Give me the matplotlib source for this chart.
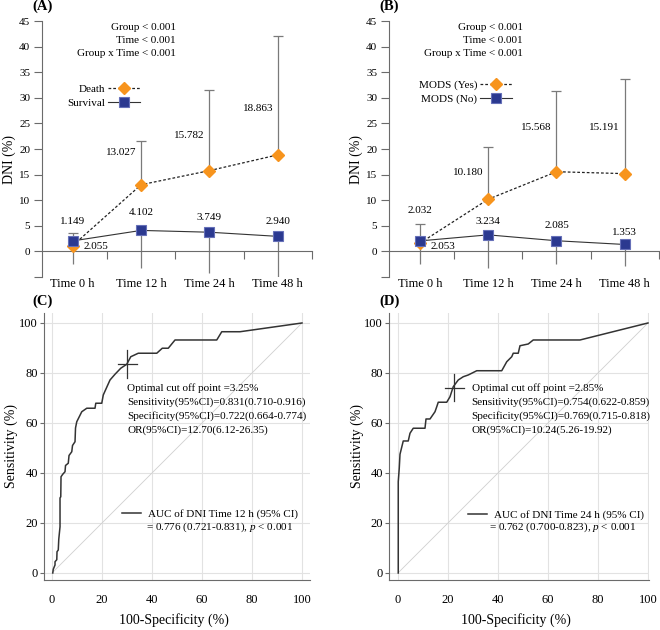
import matplotlib
matplotlib.use("Agg")
import matplotlib.pyplot as plt

plt.rcParams['font.family'] = ['Liberation Serif', 'DejaVu Serif']
plt.rcParams['mathtext.fontset'] = 'custom'
plt.rcParams['mathtext.rm'] = 'Liberation Serif'
plt.rcParams['mathtext.it'] = 'Liberation Serif:italic'

# ---- data: DNI over time ----
times = ["Time 0 h", "Time 12 h", "Time 24 h", "Time 48 h"]

death_mean = [1.149, 13.027, 15.782, 18.863]
death_upper = [3.6, 21.5, 31.5, 42.0]
survival_mean = [2.055, 4.102, 3.749, 2.940]
survival_lower = [-2.4, -3.3, -4.3, -5.0]

mods_yes_mean = [1.6, 10.180, 15.568, 15.191]
mods_yes_upper = [5.4, 20.3, 31.3, 33.6]
mods_no_mean = [2.053, 3.234, 2.085, 1.353]
mods_no_lower = [-2.5, -3.3, -2.5, -2.8]

# value labels as printed, and where they sit
labels_a_top = ["", "13.027", "15.782", "18.863"]
labels_a_top_y = [0, 19.4, 22.7, 28.0]
labels_a_bot = ["1.149", "4.102", "3.749", "2.940"]
labels_a_bot_y = [5.9, 7.6, 6.6, 5.9]
labels_b_top = ["", "10.180", "15.568", "15.191"]
labels_b_top_y = [0, 15.5, 24.3, 24.3]
labels_b_bot = ["2.032", "3.234", "2.085", "1.353"]
labels_b_bot_y = [8.0, 5.9, 5.1, 3.7]

# ---- data: ROC curves ----
roc12_fpr = [0.3, 0.5, 1.2, 1.2, 1.9, 2.0, 2.5, 2.7, 3.2, 3.2, 3.5, 3.6, 4.3, 5.2, 5.4, 6.5, 6.8, 7.9,
             8.2, 9.2, 9.4, 9.9, 11.9, 13.9, 17.2, 17.5, 19.9, 20.5, 23.2, 25.2, 27.5, 29.9, 31.5, 34.5,
             41.9, 44.1, 46.5, 49.2, 65.9, 67.9, 75.2, 100]
roc12_tpr = [0, 1.5, 3.2, 4.5, 5.3, 8.5, 9.2, 13.5, 18.5, 30.0, 30.5, 38.5, 39.5, 40.5, 43.0, 43.9, 47.0, 48.5,
             51.0, 52.5, 58.0, 60.5, 64.5, 65.9, 65.9, 67.9, 67.9, 71.2, 77.2, 79.5, 81.9, 83.5, 86.5, 87.9,
             87.9, 89.9, 89.9, 93.2, 93.2, 96.5, 96.5, 100]

roc24_fpr = [0.1, 0.1, 0.5, 0.8, 2.1, 4.1, 4.8, 6.1, 10.8, 11.2, 12.8, 14.8, 15.5, 16.1, 19.5, 20.8, 22.1,
             24.1, 26.1, 28.1, 31.5, 41.5, 43.5, 45.5, 46.1, 48.1, 48.8, 52.1, 54.1, 72.8, 100]
roc24_tpr = [0, 36.5, 41.9, 47.5, 52.8, 52.8, 55.9, 57.9, 57.9, 61.6, 61.6, 64.5, 66.5, 68.3, 68.3, 70.5, 74.5,
             77.2, 78.5, 79.2, 80.9, 80.9, 84.5, 86.5, 87.9, 87.9, 90.9, 91.6, 93.2, 93.2, 100]

cut12 = (30.1, 83.5)
cut24 = (22.5, 74.1)
info12 = ["Optimal cut off point =3.25%", "Sensitivity(95%CI)=0.831(0.710-0.916)",
          "Specificity(95%CI)=0.722(0.664-0.774)", "OR(95%CI)=12.70(6.12-26.35)"]
info24 = ["Optimal cut off point =2.85%", "Sensitivity(95%CI)=0.754(0.622-0.859)",
          "Specificity(95%CI)=0.769(0.715-0.818)", "OR(95%CI)=10.24(5.26-19.92)"]
auc12 = ["AUC of DNI Time 12 h (95% CI)", r"= 0.776 (0.721-0.831), $\it{p}$ < 0.001"]
auc24 = ["AUC of DNI Time 24 h (95% CI)", r"= 0.762 (0.700-0.823), $\it{p}$ < 0.001"]

ORANGE = "#F7941D"
NAVY = "#2B3990"
AXC = "#6b6b6b"
ERRC = "#7a7a7a"


def time_panel(ax, up_mean, up_hi, lo_mean, lo_lo, up_name, lo_name,
               top_lbl, top_y, bot_lbl, bot_y, bot0_lbl, leg_xy):
    x = list(range(len(times)))
    up_err = [[0] * len(x), [h - m for h, m in zip(up_hi, up_mean)]]
    lo_err = [[m - l for m, l in zip(lo_mean, lo_lo)], [0] * len(x)]
    ax.errorbar(x, up_mean, yerr=up_err, fmt="none", ecolor=ERRC, elinewidth=0.9, capsize=3.5, capthick=0.9, zorder=2)
    ax.errorbar(x, lo_mean, yerr=lo_err, fmt="none", ecolor=ERRC, elinewidth=0.9, capsize=0, zorder=2)
    ax.plot(x, up_mean, color="#222222", lw=0.9, ls=(0, (2.2, 1.6)), marker="D", ms=6.5,
            mfc=ORANGE, mec=ORANGE, zorder=3, label=up_name)
    ax.plot(x, lo_mean, color="#333333", lw=0.8, marker="s", ms=7,
            mfc=NAVY, mec="#6670B8", mew=0.8, zorder=4, label=lo_name)

    for i in x:
        if top_lbl[i]:
            ax.text(i - 0.07, top_y[i], top_lbl[i], ha="right", va="center", fontsize=8)
        ax.text(i, bot_y[i], bot_lbl[i], ha="center", va="center", fontsize=8)
    ax.text(0.16, 1.0, bot0_lbl, ha="left", va="center", fontsize=8)

    for k, s in enumerate(["Group < 0.001", "Time < 0.001", "Group x Time < 0.001"]):
        ax.text(1.51, 43.8 - 2.6 * k, s, ha="right", va="center", fontsize=8)

    ax.legend(loc="upper right", bbox_to_anchor=leg_xy, frameon=False, markerfirst=False,
              fontsize=8, handlelength=2.9, handletextpad=0.25, labelspacing=0.4,
              borderpad=0, borderaxespad=0, numpoints=1)

    ax.set_xlim(-0.45, 3.5)
    ax.set_ylim(-5, 45)
    ax.set_yticks(range(-5, 50, 5))
    ax.set_yticklabels([""] + [str(v) for v in range(0, 50, 5)])
    ax.set_xticks(x)
    ax.set_xticklabels(times)
    ax.set_xticks([0.5, 1.5, 2.5, 3.5], minor=True)
    ax.spines["top"].set_visible(False)
    ax.spines["right"].set_visible(False)
    ax.spines["bottom"].set_position(("data", 0))
    for s in ["left", "bottom"]:
        ax.spines[s].set_color(AXC)
        ax.spines[s].set_linewidth(0.8)
    ax.tick_params(axis="y", direction="out", length=5.5, width=0.8, color=AXC, labelsize=8, pad=3)
    ax.tick_params(axis="x", which="major", length=0, labelsize=9, pad=19)
    ax.tick_params(axis="x", which="minor", direction="out", length=6, width=0.8, color=AXC)
    ax.set_ylabel("DNI (%)", fontsize=10)
    ax.yaxis.set_label_coords(-0.095, 0.46)


def roc_panel(ax, fpr, tpr, cut, info, info_x, auc, xlim, leg_xy, txt2_x):
    ax.grid(True, color="#e2e2e2", lw=0.8)
    ax.set_axisbelow(True)
    ax.plot([0, 100], [0, 100], color="#cfcfcf", lw=0.6, zorder=1)
    line, = ax.plot(fpr, tpr, color="#333333", lw=1.1, zorder=3)
    ax.plot([cut[0] - 3.8, cut[0] + 3.8], [cut[1], cut[1]], color="#333333", lw=0.9, zorder=4)
    ax.plot([cut[0], cut[0]], [cut[1] - 5.5, cut[1] + 5.5], color="#333333", lw=0.9, zorder=4)
    for k, s in enumerate(info):
        ax.text(info_x, 74.1 - 5.6 * k, s, ha="left", va="center", fontsize=8)
    ax.legend([line], [auc[0]], loc="center left", bbox_to_anchor=leg_xy, frameon=False,
              fontsize=8, handlelength=1.75, handletextpad=0.6, borderpad=0, borderaxespad=0)
    ax.text(txt2_x, 18.4, auc[1], ha="left", va="center", fontsize=8)

    ax.set_xlim(*xlim)
    ax.set_ylim(-2.8, 104)
    ax.set_xticks(range(0, 101, 20))
    ax.set_yticks(range(0, 101, 20))
    ax.spines["top"].set_visible(False)
    ax.spines["right"].set_visible(False)
    for s in ["left", "bottom"]:
        ax.spines[s].set_color(AXC)
        ax.spines[s].set_linewidth(0.8)
    ax.tick_params(axis="y", direction="out", length=3, width=0.8, color=AXC, labelsize=9, pad=1.5)
    ax.tick_params(axis="x", length=0, labelsize=9, pad=10)
    ax.set_ylabel("Sensitivity (%)", fontsize=10)
    ax.set_xlabel("100-Specificity (%)", fontsize=10)
    ax.yaxis.set_label_coords(-0.098, 0.5)
    ax.xaxis.set_label_coords(0.49, -0.125)


fig = plt.figure(figsize=(6.6, 6.3), dpi=100)
ax_a = fig.add_axes([0.0636, 0.5603, 0.4091, 0.4063])
ax_b = fig.add_axes([0.5894, 0.5603, 0.4091, 0.4063])
ax_c = fig.add_axes([0.0667, 0.0794, 0.4030, 0.4238])
ax_d = fig.add_axes([0.5894, 0.0794, 0.3939, 0.4238])

time_panel(ax_a, death_mean, death_upper, survival_mean, survival_lower, "Death", "Survival",
           labels_a_top, labels_a_top_y, labels_a_bot, labels_a_bot_y, "2.055", (0.363, 0.754))
time_panel(ax_b, mods_yes_mean, mods_yes_upper, mods_no_mean, mods_no_lower, "MODS (Yes)", "MODS (No)",
           labels_b_top, labels_b_top_y, labels_b_bot, labels_b_bot_y, "2.053", (0.456, 0.770))
roc_panel(ax_c, roc12_fpr, roc12_tpr, cut12, info12, 30.0, auc12, (-3.2, 103.2), (0.293, 0.247), 37.5)
roc_panel(ax_d, roc24_fpr, roc24_tpr, cut24, info24, 29.5, auc24, (-3.6, 100.4), (0.304, 0.243), 36.4)

for lbl, px, py in [("(A)", 32, 6), ("(B)", 379, 6), ("(C)", 32, 301), ("(D)", 379, 301)]:
    fig.text(px / 660, 1 - py / 630, lbl, ha="left", va="center", fontsize=10.5, fontweight="bold")

fig.savefig("out.png", dpi=100)
